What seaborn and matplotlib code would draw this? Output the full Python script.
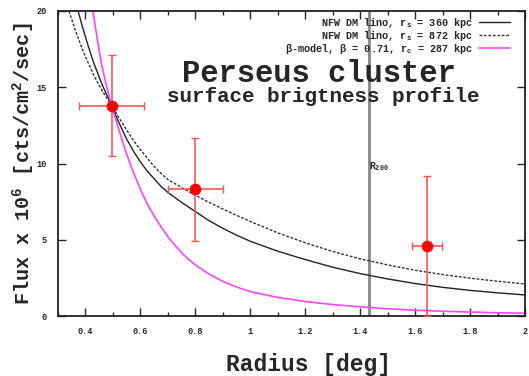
import numpy as np
import pandas as pd
import matplotlib
matplotlib.use("Agg")
import matplotlib.pyplot as plt
import seaborn as sns

# ---- data ----
obs_r = [0.495, 0.80, 1.644]
obs_flux = [13.8, 8.3, 4.6]
obs_rerr = [0.117, 0.10, 0.055]
obs_flux_lo = [3.3, 3.4, 4.6]
obs_flux_hi = [3.3, 3.4, 4.6]

nfw1_r = [0.373, 0.39, 0.41, 0.43, 0.46, 0.495, 0.52, 0.55, 0.575, 0.60, 0.625, 0.65, 0.675,
          0.70, 0.75, 0.80, 0.85, 0.90, 0.95, 1.00, 1.10, 1.20, 1.30, 1.40, 1.50, 1.60,
          1.70, 1.80, 1.90, 2.00]
nfw1_f = [20.0, 18.9, 17.7, 16.6, 15.2, 13.8, 12.75, 11.6, 10.8, 10.1, 9.5, 9.0, 8.5,
          8.1, 7.45, 6.85, 6.25, 5.75, 5.3, 4.9, 4.25, 3.7, 3.2, 2.78, 2.43, 2.13,
          1.88, 1.68, 1.52, 1.38]

nfw2_r = [0.34, 0.36, 0.38, 0.40, 0.43, 0.46, 0.495, 0.52, 0.55, 0.575, 0.60, 0.625, 0.65,
          0.675, 0.70, 0.75, 0.80, 0.85, 0.90, 0.95, 1.00, 1.10, 1.20, 1.30, 1.40, 1.50,
          1.60, 1.70, 1.80, 1.90, 2.00]
nfw2_f = [20.0, 18.9, 17.9, 17.0, 15.8, 14.8, 13.8, 13.05, 12.2, 11.5, 10.9, 10.35, 9.8,
          9.35, 8.95, 8.42, 7.92, 7.45, 7.02, 6.6, 6.2, 5.45, 4.8, 4.23, 3.75, 3.35,
          3.0, 2.72, 2.48, 2.28, 2.1]

beta_r = [0.427, 0.44, 0.45, 0.46, 0.475, 0.495, 0.52, 0.55, 0.575, 0.60, 0.625, 0.65,
          0.675, 0.70, 0.725, 0.75, 0.775, 0.80, 0.85, 0.90, 0.95, 1.00, 1.10, 1.20,
          1.30, 1.40, 1.50, 1.60, 1.70, 1.80, 1.90, 2.00]
beta_f = [20.0, 18.5, 17.4, 16.4, 15.2, 13.8, 12.3, 10.6, 9.4, 8.3, 7.35, 6.55,
          5.85, 5.2, 4.65, 4.15, 3.72, 3.35, 2.75, 2.27, 1.9, 1.6, 1.22, 0.95,
          0.75, 0.6, 0.47, 0.38, 0.31, 0.26, 0.21, 0.18]

r200 = 1.433
xticks = [0.4, 0.6, 0.8, 1.0, 1.2, 1.4, 1.6, 1.8, 2.0]
xticklabels = ["0.4", "0.6", "0.8", "1", "1.2", "1.4", "1.6", "1.8", "2"]
yticks = [0, 5, 10, 15, 20]

sns.set_style("ticks")
plt.rcParams['font.family'] = ['Liberation Mono', 'DejaVu Sans']
plt.rcParams['font.weight'] = 'bold'
plt.rcParams['mathtext.default'] = 'regular'

fig = plt.figure(figsize=(5.29, 3.76), dpi=100)
ax = fig.add_axes([58/529, 1-316/376, (525-58)/529, (316-11)/376])

df1 = pd.DataFrame({"r": nfw1_r, "f": nfw1_f})
df2 = pd.DataFrame({"r": nfw2_r, "f": nfw2_f})
df3 = pd.DataFrame({"r": beta_r, "f": beta_f})

ax.axvline(r200, color="#888888", lw=2.0, zorder=1)
sns.lineplot(data=df1, x="r", y="f", ax=ax, color="#222222", lw=1.0,
             label=r"NFW DM lino, r$_s$ = 360 kpc", sort=False)
sns.lineplot(data=df2, x="r", y="f", ax=ax, color="#333333", lw=1.0,
             linestyle=(0, (2, 1.2)), label=r"NFW DM lino, r$_s$ = 872 kpc", sort=False)
sns.lineplot(data=df3, x="r", y="f", ax=ax, color="#ff44ff", lw=1.2,
             label=r"β-model, β = 0.71, r$_c$ = 287 kpc", sort=False)

ax.errorbar(obs_r, obs_flux, xerr=obs_rerr, yerr=[obs_flux_lo, obs_flux_hi],
            fmt="none", ecolor="#ff5555", elinewidth=1.2, capsize=3, capthick=1.0, zorder=4)
sns.scatterplot(x=obs_r, y=obs_flux, ax=ax, color="#ff0000", s=60,
                edgecolor="#ff0000", zorder=5, legend=False)

ax.set_xlim(0.3, 2.0)
ax.set_ylim(0, 20)
ax.set_xticks(xticks)
ax.set_xticklabels(xticklabels)
ax.set_xticks(np.arange(0.3, 2.0, 0.1), minor=True)
ax.set_yticks(yticks)
ax.tick_params(axis="both", which="both", direction="in", top=True, right=True,
               labelsize=6.2, width=1.0, pad=8)
ax.tick_params(which="major", length=6)
ax.tick_params(which="minor", length=3)
for s in ax.spines.values():
    s.set_linewidth(1.3)
    s.set_color("#222222")

ax.set_xlabel("Radius [deg]", fontsize=16.5, fontweight="bold", labelpad=12)
ax.xaxis.label.set_x((308 - 58) / 467)
ax.set_ylabel(r"Flux x 10$^6$ [cts/cm$^2$/sec]", fontsize=14.5, fontweight="bold", labelpad=0)

leg = ax.legend(loc="upper right", bbox_to_anchor=(1 - 10/467, 1.0), frameon=False,
                markerfirst=False, fontsize=7.3, handlelength=3.1, handletextpad=0.6,
                labelspacing=-0.1, borderaxespad=0.05)

ax.text(1.25, 15.9, "Perseus cluster", ha="center", va="center", fontsize=22,
        fontweight="bold")
ax.text(1.265, 14.4, "surface brigtness profile", ha="center", va="center",
        fontsize=15, fontweight="bold")
ax.text(r200, 9.8, r"R$_{200}$", ha="left", va="center", fontsize=7, fontweight="bold")

fig.savefig("out.png", dpi=100)
